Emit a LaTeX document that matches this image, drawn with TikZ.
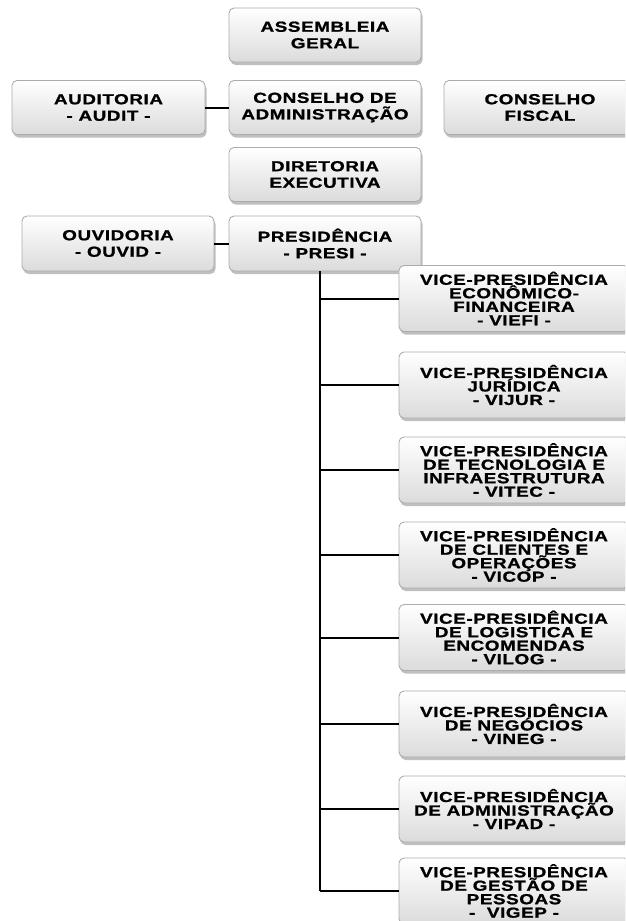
\documentclass[tikz,border=0pt]{standalone}
\usepackage{fontspec}
\newfontfamily\boxfont{Liberation Sans Bold}[FakeStretch=1.3,LetterSpace=4,FakeBold=1.2]
\usetikzlibrary{shadows}
\begin{document}
\begin{tikzpicture}[x=1pt,y=-1pt,
  box/.style={draw=gray!65, line width=0.9pt, rounded corners=5pt,
    top color=white, bottom color=gray!28,
    drop shadow={shadow xshift=1.5pt, shadow yshift=-3pt, opacity=0.25, fill=black},
    inner sep=0pt, align=center, text=black,
    font=\boxfont\fontsize{14.5}{16.5}\selectfont},
  topbox/.style={box, minimum width=192pt, minimum height=54pt},
  vpbox/.style={box, minimum width=230pt, minimum height=66pt,
    font=\boxfont\fontsize{14.5}{13.5}\selectfont},
  link/.style={line width=2pt, black}]
\useasboundingbox (0,0) rectangle (625,921);
\clip (0,0) rectangle (625,921);

\node[topbox] (ag) at (325,35) {ASSEMBLEIA\\GERAL};
\node[topbox] (ca) at (325,107.5) {CONSELHO DE\\ADMINISTRAÇÃO};
\node[topbox, minimum width=193pt] (aud) at (108.5,107.5) {AUDITORIA\\- AUDIT -};
\node[topbox] (cf) at (540,107.5) {CONSELHO\\FISCAL};
\node[topbox] (de) at (325,174.5) {DIRETORIA\\EXECUTIVA};
\node[topbox, minimum height=55pt] (pr) at (325,243.5) {PRESIDÊNCIA\\- PRESI -};
\node[topbox, minimum height=55pt] (ouv) at (118,243.5) {OUVIDORIA\\- OUVID -};

\node[vpbox] (v1) at (514,298.5) {VICE-PRESIDÊNCIA\\ECONÔMICO-\\FINANCEIRA\\- VIEFI -};
\node[vpbox] (v2) at (514,385) {VICE-PRESIDÊNCIA\\JURÍDICA\\- VIJUR -};
\node[vpbox] (v3) at (514,470) {VICE-PRESIDÊNCIA\\DE TECNOLOGIA E\\INFRAESTRUTURA\\- VITEC -};
\node[vpbox] (v4) at (514,555) {VICE-PRESIDÊNCIA\\DE CLIENTES E\\OPERAÇÕES\\- VICOP -};
\node[vpbox] (v5) at (514,637.5) {VICE-PRESIDÊNCIA\\DE LOGISTICA E\\ENCOMENDAS\\- VILOG -};
\node[vpbox] (v6) at (514,724) {VICE-PRESIDÊNCIA\\DE NEGÓCIOS\\- VINEG -};
\node[vpbox] (v7) at (514,809) {VICE-PRESIDÊNCIA\\DE ADMINISTRAÇÃO\\- VIPAD -};
\node[vpbox] (v8) at (514,891) {VICE-PRESIDÊNCIA\\DE GESTÃO DE\\PESSOAS\\- \ VIGEP -};

\draw[link] (aud) -- (ca);
\draw[link] (ouv) -- (pr);
\coordinate (trunk) at ([xshift=-5pt]pr.south);
\draw[link] (trunk) -- (trunk |- v8.west);
\foreach \v in {v1,v2,v3,v4,v5,v6,v7,v8}
  \draw[link] (trunk |- \v.west) -- (\v.west);
\end{tikzpicture}
\end{document}
